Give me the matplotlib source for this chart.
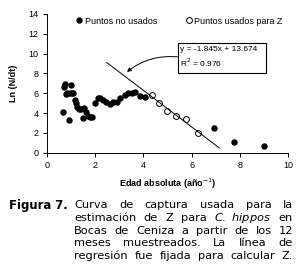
import matplotlib
matplotlib.use("Agg")
from matplotlib import pyplot as plt
from matplotlib.lines import Line2D
from matplotlib.patches import Rectangle

# puntos no usados (circulos llenos)
edadNo = [0.65, 0.70, 0.75, 0.80, 0.85, 0.90, 0.95, 1.00, 1.05, 1.10, 1.15,
          1.20, 1.25, 1.32, 1.40, 1.48, 1.55, 1.62, 1.70, 1.78, 1.88,
          2.00, 2.10, 2.20, 2.32, 2.45, 2.62, 2.75, 2.90, 3.05, 3.22,
          3.38, 3.52, 3.65, 3.85, 4.08, 6.92, 7.75, 9.00]
lnNo = [4.1, 6.6, 6.9, 5.95, 6.0, 3.35, 6.05, 6.8, 6.0, 6.0, 5.3,
        5.0, 4.6, 4.4, 4.4, 3.55, 4.5, 4.1, 3.7, 3.6, 3.65,
        5.0, 5.5, 5.5, 5.3, 5.1, 4.9, 5.1, 5.1, 5.5, 5.8,
        6.0, 6.05, 6.1, 5.7, 5.6, 2.5, 1.1, 0.67]

# puntos usados para Z (circulos abiertos)
edadZ = [4.37, 4.65, 4.98, 5.34, 5.76, 6.28]
lnZ = [5.8, 5.05, 4.24, 3.7, 3.37, 1.95]

pendiente = -1.845
intercepto = 13.674
r2 = 0.976
lineaX = [2.48, 7.15]

caption = [["Curva", "de", "captura", "usada", "para", "la"],
           ["estimación", "de", "Z", "para", "$\\it{C.\\ hippos}$", "en"],
           ["Bocas", "de", "Ceniza", "a", "partir", "de", "los", "12"],
           ["meses", "muestreados.", "La", "línea", "de"],
           ["regresión", "fue", "fijada", "para", "calcular", "Z."]]

fig = plt.figure(figsize=(3.07, 2.72), dpi=100)
ax = fig.add_axes([0.153, 0.4386, 0.785, 0.510])
af = "Liberation Sans"

ax.plot(edadNo, lnNo, "o", color="black", markersize=3.6, linestyle="none")
ax.plot(edadZ, lnZ, "o", markerfacecolor="white", markeredgecolor="black",
        markeredgewidth=0.7, markersize=4.2, linestyle="none")
ly = [pendiente * x + intercepto for x in lineaX]
ax.plot(lineaX, ly, color="black", linewidth=0.7)

ax.set_xlim(0, 10)
ax.set_ylim(0, 14)
ax.set_xticks([0, 2, 4, 6, 8, 10])
ax.set_yticks([0, 2, 4, 6, 8, 10, 12, 14])
for s in ["top", "right"]:
    ax.spines[s].set_visible(False)
for s in ["left", "bottom"]:
    ax.spines[s].set_linewidth(0.7)
ax.tick_params(direction="out", length=3, width=0.7, labelsize=6.5, pad=3)
for lab in ax.get_xticklabels() + ax.get_yticklabels():
    lab.set_family(af)

ax.set_xlabel("Edad absoluta (año$^{-1}$)", fontsize=6.5, fontweight="bold",
              family=af, labelpad=5)
ax.set_ylabel("Ln (N/dt)", fontsize=6.5, fontweight="bold", family=af, labelpad=8)

h1 = Line2D([], [], marker="o", color="black", linestyle="none", markersize=3.6)
h2 = Line2D([], [], marker="o", markerfacecolor="white", markeredgecolor="black",
            markeredgewidth=0.7, linestyle="none", markersize=4.2)
ax.legend([h1, h2], ["Puntos no usados", "Puntos usados para Z"], ncol=2,
          loc="upper center", bbox_to_anchor=(0.55, 1.04), frameon=False,
          prop={"family": af, "size": 6.5}, handlelength=0.6, handletextpad=0.3,
          columnspacing=3.2)

# recuadro de la ecuacion
ax.add_patch(Rectangle((5.42, 8.08), 3.67, 3.03, facecolor="white",
                       edgecolor="black", linewidth=0.8, clip_on=False, zorder=3))
ax.text(5.5, 10.4, "y = %.3fx + %.3f" % (pendiente, intercepto), fontsize=6,
        family=af, va="center", zorder=4)
ax.text(5.5, 9.05, "R$^2$ = %.3f" % r2, fontsize=6, family=af, va="center", zorder=4)
ax.annotate("", xy=(3.32, 8.15), xytext=(5.42, 9.67),
            arrowprops=dict(arrowstyle="-|>", color="black", linewidth=0.7,
                            mutation_scale=6, shrinkA=0, shrinkB=0,
                            connectionstyle="arc3,rad=0.2"))

# pie de figura justificado
fig.text(9 / 307, 1 - 205 / 272, "Figura 7.", fontsize=8.4, fontweight="bold",
         family="DejaVu Sans", va="center")
x0, x1 = 74, 293
fig.canvas.draw()
r = fig.canvas.get_renderer()
for i, words in enumerate(caption):
    yy = 1 - (205 + i * 12.75) / 272
    txts = [fig.text(0, yy, w, fontsize=8.2, family="DejaVu Sans", va="center") for w in words]
    wid = [t.get_window_extent(r).width for t in txts]
    gap = (x1 - x0 - sum(wid)) / max(len(words) - 1, 1)
    px = x0
    for t, w in zip(txts, wid):
        t.set_x(px / 307)
        px += w + gap

fig.savefig("out.png", dpi=100)
